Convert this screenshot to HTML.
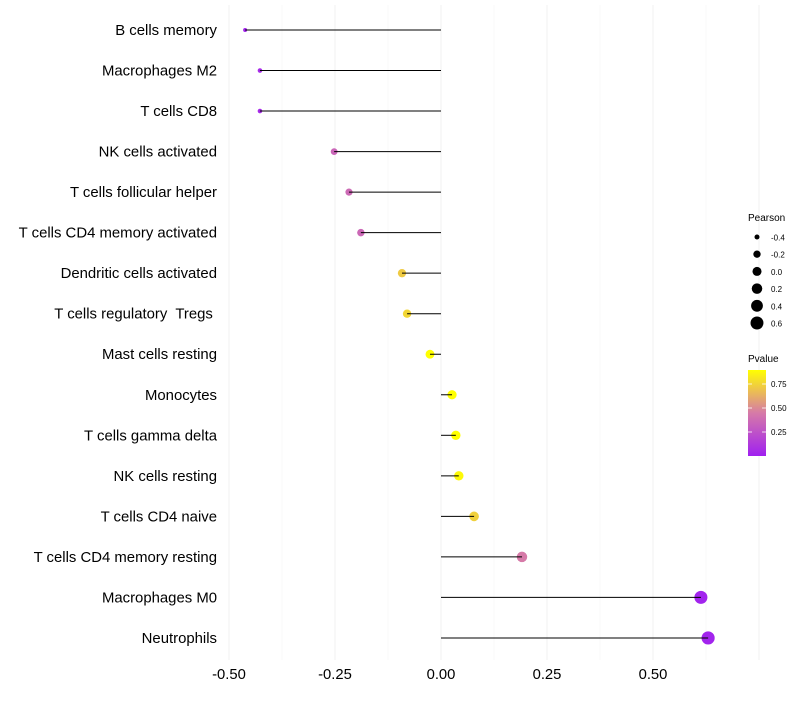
<!DOCTYPE html>
<html><head><meta charset="utf-8"><style>
body{margin:0;background:#fff;font-family:"Liberation Sans",sans-serif}
text{white-space:pre}
</style></head><body>
<svg id="chart" width="800" height="700" xmlns="http://www.w3.org/2000/svg"></svg>
<script>
const categories=["B cells memory","Macrophages M2","T cells CD8","NK cells activated","T cells follicular helper","T cells CD4 memory activated","Dendritic cells activated","T cells regulatory  Tregs ","Mast cells resting","Monocytes","T cells gamma delta","NK cells resting","T cells CD4 naive","T cells CD4 memory resting","Macrophages M0","Neutrophils"];
const pearson=[-0.462,-0.427,-0.427,-0.252,-0.217,-0.189,-0.092,-0.080,-0.026,0.026,0.035,0.042,0.078,0.191,0.613,0.630];
const pvalue=[0.02,0.05,0.05,0.35,0.37,0.36,0.72,0.76,0.92,0.92,0.9,0.88,0.74,0.45,0.02,0.02];
const xTicks=[-0.5,-0.25,0,0.25,0.5];
const xTickLabels=["-0.50","-0.25","0.00","0.25","0.50"];
const sizeLegend=[-0.4,-0.2,0.0,0.2,0.4,0.6];
const sizeLegendLabels=["-0.4","-0.2","0.0","0.2","0.4","0.6"];
const colorTicks=[0.25,0.5,0.75];
const colorTickLabels=["0.25","0.50","0.75"];

const svg=document.getElementById('chart');
const NS='http://www.w3.org/2000/svg';
function mk(t,a,p){const e=document.createElementNS(NS,t);for(const k in a)e.setAttribute(k,a[k]);(p||svg).appendChild(e);return e;}
const x=v=>441+v*424;
const y=i=>30+i*40.53;
const r=v=>Math.sqrt(Math.max(1,20.55+35.75*v));
function lerp(a,b,t){return a.map((c,i)=>Math.round(c+(b[i]-c)*t));}
const cLow=[160,32,240],cMid=[214,122,168],cHigh=[255,255,0];
const pMin=0,pMax=0.9;
function col(p){let t=Math.min(1,Math.max(0,(p-pMin)/(pMax-pMin)));const c=t<0.5?lerp(cLow,cMid,t*2):lerp(cMid,cHigh,(t-0.5)*2);return `rgb(${c})`;}

const grid=mk('g',{});
for(let v=-0.5;v<=0.751;v+=0.125){const major=Math.abs(v*4-Math.round(v*4))<1e-6;const l=mk('line',{x1:x(v),x2:x(v),y1:5,y2:660,stroke:major?'#f0f0f0':'#f6f6f6','stroke-width':major?1:0.6},grid);}
xTicks.forEach((v,i)=>{const t=mk('text',{x:x(v),y:679,'text-anchor':'middle','font-size':14.8,fill:'#000'});t.textContent=xTickLabels[i];});
categories.forEach((c,i)=>{
 const t=mk('text',{x:217,y:y(i)+5,'text-anchor':'end','font-size':14.9,fill:'#000'});t.textContent=c;
 
 const ci=mk('circle',{cx:x(pearson[i]),cy:y(i),r:r(pearson[i]),fill:col(pvalue[i])});
 
 const l=mk('line',{x1:x(0),x2:x(pearson[i]),y1:y(i),y2:y(i),stroke:'#000','stroke-width':1});
 
});
const lt=mk('text',{x:748,y:221,'font-size':10});lt.textContent='Pearson';
sizeLegend.forEach((v,i)=>{const cy=237+i*17.2;const c=mk('circle',{cx:757,cy:cy,r:r(v),fill:'#000'});
 const t=mk('text',{x:771,y:cy+3.5,'font-size':8});t.textContent=sizeLegendLabels[i];});
const ct=mk('text',{x:748,y:362,'font-size':10});ct.textContent='Pvalue';
const defs=mk('defs',{});const g=mk('linearGradient',{id:'pg',x1:0,y1:1,x2:0,y2:0},defs);
[0,0.25,0.5,0.75,1].forEach(o=>mk('stop',{offset:o,'stop-color':col(pMin+o*(pMax-pMin))},g));
const bar=mk('rect',{x:748,y:370,width:18,height:86,fill:'url(#pg)'});
const cy=v=>456-v*96;
colorTicks.forEach((v,i)=>{mk('line',{x1:748,x2:752,y1:cy(v),y2:cy(v),stroke:'#fff','stroke-width':0.8});mk('line',{x1:762,x2:766,y1:cy(v),y2:cy(v),stroke:'#fff','stroke-width':0.8});
 const t=mk('text',{x:771,y:cy(v)+3,'font-size':8});t.textContent=colorTickLabels[i];});
</script>
</body></html>
